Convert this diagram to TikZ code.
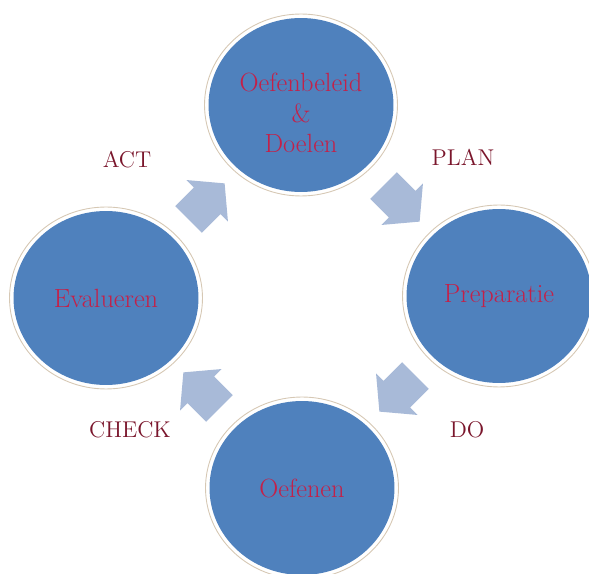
\documentclass[tikz,border=0pt]{standalone}
\usepackage{tikz}
\usepackage{xcolor}
\usetikzlibrary{positioning,shapes.arrows,shapes.geometric,calc}
\definecolor{cycleblue}{RGB}{79,129,189}
\definecolor{cyclering}{RGB}{214,200,180}
\definecolor{cycletext}{RGB}{196,32,72}
\definecolor{phasetext}{RGB}{122,22,44}
\definecolor{arrowfill}{RGB}{168,186,216}

\begin{document}
\begin{tikzpicture}[x=0.02cm, y=-0.02cm,
    stagetext/.style={align=center, font=\fontsize{15}{17.5}\selectfont, text=cycletext},
    stage/.style={ellipse, draw=cyclering, line width=0.5pt, fill=white, minimum width=3.86cm,
        minimum height=3.64cm, inner sep=0pt, stagetext,
        path picture={\fill[cycleblue] (path picture bounding box.center) ellipse (1.85cm and 1.74cm);}},
    cyclearrow/.style={single arrow, fill=arrowfill, draw=none, inner xsep=0pt, inner ysep=0.37cm,
        single arrow head extend=0.21cm, single arrow tip angle=100, minimum height=1.02cm},
    phase/.style={font=\fontsize{13}{16}\selectfont, text=phasetext}
]
\useasboundingbox (0,0) rectangle (589,574);

% Stages
\node[stage, label={[stagetext, yshift=-0.16cm]center:{Oefenbeleid\\\&\\Doelen}}] (beleid) at (301,105) {};
\node[stage] (preparatie) at (499,296) {Preparatie};
\node[stage] (oefenen) at (302,488) {Oefenen};
\node[stage] (evalueren) at (106,298) {Evalueren};

% Arrows between stages
\node[cyclearrow, rotate=45] (actarrow) at (201,207) {};
\node[cyclearrow, rotate=-45] (planarrow) at (396,198) {};
\node[cyclearrow, rotate=-135] (doarrow) at (403,388) {};
\node[cyclearrow, rotate=135] (checkarrow) at (207,396) {};

% Phase labels
\node[phase] (act) at (127,160) {ACT};
\node[phase] (plan) at (463,157) {PLAN};
\node[phase] (do) at (467,430) {DO};
\node[phase] (check) at (130,430) {CHECK};

\end{tikzpicture}
\end{document}
